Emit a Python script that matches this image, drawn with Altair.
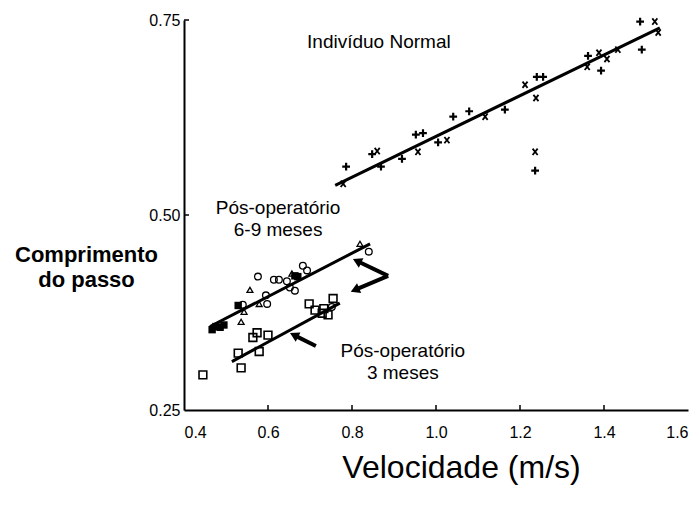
import altair as alt
import pandas as pd

FONT = "Liberation Sans"

# --- Indivíduo Normal ---
normal_plus_vel = [0.786, 0.848, 0.869, 0.919, 0.952, 0.969, 1.005, 1.041, 1.079, 1.164, 1.24, 1.255, 1.236, 1.362, 1.393, 1.486, 1.49]
normal_plus_len = [0.562, 0.578, 0.562, 0.572, 0.603, 0.605, 0.593, 0.626, 0.633, 0.635, 0.677, 0.677, 0.557, 0.704, 0.685, 0.748, 0.712]
normal_x_vel = [0.779, 0.860, 0.957, 1.026, 1.117, 1.212, 1.238, 1.236, 1.360, 1.388, 1.407, 1.433, 1.521, 1.529]
normal_x_len = [0.540, 0.582, 0.581, 0.596, 0.626, 0.667, 0.650, 0.581, 0.690, 0.708, 0.700, 0.712, 0.748, 0.734]

# --- Pós-operatório 6-9 meses ---
circ_vel = [0.540, 0.576, 0.614, 0.626, 0.595, 0.598, 0.645, 0.652, 0.664, 0.683, 0.693, 0.840, 0.752]
circ_len = [0.385, 0.421, 0.417, 0.417, 0.397, 0.386, 0.415, 0.407, 0.403, 0.435, 0.429, 0.453, 0.382]
tri_vel = [0.543, 0.536, 0.557, 0.579, 0.657, 0.819]
tri_len = [0.376, 0.363, 0.404, 0.386, 0.425, 0.463]
fsq_vel = [0.467, 0.476, 0.486, 0.495, 0.529, 0.664, 0.671]
fsq_len = [0.353, 0.357, 0.356, 0.359, 0.384, 0.422, 0.421]

# --- Pós-operatório 3 meses ---
sq_vel = [0.445, 0.536, 0.529, 0.579, 0.564, 0.574, 0.600, 0.698, 0.712, 0.729, 0.733, 0.743, 0.755]
sq_len = [0.295, 0.304, 0.323, 0.325, 0.343, 0.349, 0.346, 0.386, 0.378, 0.374, 0.380, 0.372, 0.393]

# --- regression lines (end points) ---
line_group = ["normal", "normal", "p69", "p69", "p3", "p3"]
line_vel = [0.76, 1.533, 0.462, 0.843, 0.514, 0.771]
line_len = [0.538, 0.740, 0.357, 0.463, 0.312, 0.387]

# --- arrows (tail -> head) ---
arrow_tail_vel = [0.886, 0.886, 0.714]
arrow_tail_len = [0.422, 0.422, 0.332]
arrow_head_vel = [0.812, 0.807, 0.662]
arrow_head_len = [0.441, 0.404, 0.346]
arrow_angle = [296, 247, 297]

# --- annotations ---
label_text = ["Indivíduo Normal", "Pós-operatório\n6-9 meses", "Pós-operatório\n3 meses"]
label_vel = [0.864, 0.624, 0.921]
label_len = [0.722, 0.509, 0.326]

x_ticks = [0.4, 0.6, 0.8, 1.0, 1.2, 1.4, 1.6]
y_ticks = [0.25, 0.50, 0.75]
x_inner_ticks = [0.6, 0.8, 1.0, 1.2, 1.4]
y_inner_ticks = [0.50, 0.75]

W, H = 504, 390

xs = alt.Scale(domain=[0.4, 1.6], nice=False, zero=False)
ys = alt.Scale(domain=[0.25, 0.75], nice=False, zero=False)

x_axis = alt.Axis(values=x_ticks, format=".1f", tickSize=0, labelPadding=14, labelFontSize=16,
                  labelFont=FONT, grid=False, domainColor="black", domainWidth=2,
                  title="Velocidade (m/s)", titleFontSize=32, titleFontWeight="normal", titleFont=FONT,
                  titleY=57, titleX=277, titleBaseline="middle", titleColor="black", labelColor="black")
y_axis = alt.Axis(values=y_ticks, format=".2f", tickSize=0, labelPadding=4, labelFontSize=16,
                  labelFont=FONT, grid=False, domainColor="black", domainWidth=2,
                  title=["Comprimento", "do passo"], titleAngle=0, titleAlign="center",
                  titleBaseline="middle", titleX=-98, titleY=234, titleFontSize=22,
                  titleFontWeight="bold", titleFont=FONT, titleLineHeight=25, titleColor="black",
                  labelColor="black")


def X(field="v"):
    return alt.X(f"{field}:Q", scale=xs, axis=x_axis)


def Y(field="l"):
    return alt.Y(f"{field}:Q", scale=ys, axis=y_axis)


def df(v, l):
    return pd.DataFrame({"v": v, "l": l})


PLUS = "M-1,0L1,0M0,-1L0,1"
CROSS = "M-0.8,-1L0.8,1M-0.8,1L0.8,-1"

plus_layer = alt.Chart(df(normal_plus_vel, normal_plus_len)).mark_point(
    shape=PLUS, filled=False, stroke="black", strokeWidth=2.2, size=60, opacity=1
).encode(x=X(), y=Y())
x_layer = alt.Chart(df(normal_x_vel, normal_x_len)).mark_point(
    shape=CROSS, filled=False, stroke="black", strokeWidth=1.8, size=40, opacity=1
).encode(x=X(), y=Y())
circ_layer = alt.Chart(df(circ_vel, circ_len)).mark_point(
    shape="circle", filled=False, stroke="black", strokeWidth=1.3, size=45, opacity=1
).encode(x=X(), y=Y())
tri_layer = alt.Chart(df(tri_vel, tri_len)).mark_point(
    shape="triangle-up", filled=False, stroke="black", strokeWidth=1.3, size=35, opacity=1
).encode(x=X(), y=Y())
fsq_layer = alt.Chart(df(fsq_vel, fsq_len)).mark_point(
    shape="square", filled=True, color="black", size=55, opacity=1
).encode(x=X(), y=Y())
sq_layer = alt.Chart(df(sq_vel, sq_len)).mark_point(
    shape="square", filled=False, stroke="black", strokeWidth=1.6, size=60, opacity=1
).encode(x=X(), y=Y())

lines = alt.Chart(pd.DataFrame({"g": line_group, "v": line_vel, "l": line_len})).mark_line(
    color="black", strokeWidth=3
).encode(x=X(), y=Y(), detail="g:N")

arrows_df = pd.DataFrame({"v": arrow_tail_vel, "l": arrow_tail_len,
                          "v2": arrow_head_vel, "l2": arrow_head_len, "a": arrow_angle})
arrow_shafts = alt.Chart(arrows_df).mark_rule(color="black", strokeWidth=4).encode(
    x=X(), y=Y(), x2="v2:Q", y2="l2:Q")
arrow_heads = alt.Chart(arrows_df).mark_point(
    shape="triangle-up", filled=True, color="black", size=110, opacity=1
).encode(x=X("v2"), y=Y("l2"), angle=alt.Angle("a:Q", scale=None))

labels = alt.Chart(pd.DataFrame({"t": label_text, "v": label_vel, "l": label_len})).mark_text(
    font=FONT, fontSize=19, color="black", lineBreak="\n", lineHeight=22, align="center",
    baseline="middle"
).encode(x=X(), y=Y(), text="t:N")

xt = alt.Chart(pd.DataFrame({"v": x_inner_ticks})).mark_rule(color="black", strokeWidth=1.5).encode(
    x=X(), y=alt.value(H), y2=alt.value(H - 5))
yt = alt.Chart(pd.DataFrame({"l": y_inner_ticks})).mark_rule(color="black", strokeWidth=1.5).encode(
    y=Y(), x=alt.value(0), x2=alt.value(5))

chart = alt.layer(
    lines, plus_layer, x_layer, circ_layer, tri_layer, fsq_layer, sq_layer,
    arrow_shafts, arrow_heads, labels, xt, yt
).properties(
    width=W, height=H,
    autosize=alt.AutoSizeParams(type="none"),
    padding={"left": 184, "top": 20, "right": 11, "bottom": 95},
    background="white",
).configure_view(stroke=None)

chart.save("out.html", embed_options={"renderer": "svg", "actions": False})
